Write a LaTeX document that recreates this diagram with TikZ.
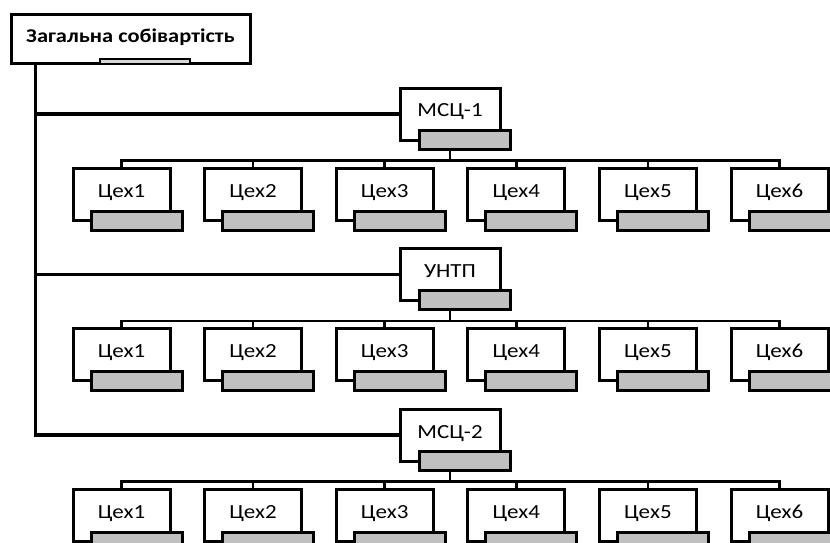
\documentclass[tikz,border=0pt]{standalone}
\usepackage{fontspec}
\setmainfont{Carlito}
\newfontfamily\wide[FakeStretch=1.15]{Carlito}
\usetikzlibrary{positioning,calc}
\definecolor{TabGray}{RGB}{192,192,192}
\definecolor{TopTab}{RGB}{215,215,215}

\begin{document}
\begin{tikzpicture}[x=1pt,y=-1pt,
  unit/.style={draw,line width=3pt,fill=white,minimum width=97pt,minimum height=52pt,
    inner sep=0pt,text height=14pt,text depth=8pt,font=\wide\fontsize{20}{22}\selectfont},
  unittab/.style={draw,line width=3pt,fill=TabGray,minimum width=91pt,minimum height=19pt,inner sep=0pt},
  trunk/.style={line width=3.2pt},
  bus/.style={line width=2.6pt}]
  \useasboundingbox (0,0) rectangle (830,543);
  \clip (0,0) rectangle (830,543);

  % head of the chart
  \node[unit,minimum width=239pt,minimum height=49pt,font=\wide\fontsize{19.5}{22}\selectfont\bfseries] (total) at (130.5,39.5) {Загальна собівартість};
  \node[draw,line width=2pt,fill=TopTab,minimum width=90pt,minimum height=5pt,inner sep=0pt,anchor=south] (total-tab) at ([xshift=14.5pt]total.south) {};

  \foreach \p/\name [count=\k from 0] in {m1/МСЦ-1, untp/УНТП, m2/МСЦ-2} {
    \node[unit,minimum width=100pt] (\p) at (450,{114+160.5*\k}) {\name};
    \node[unittab,anchor=north east] (\p-tab) at ([xshift=10pt,yshift=13pt]\p.south east) {};
    \draw[trunk] ([xshift=26pt]total.south west) |- (\p.west);
    % workshops
    \foreach \i in {1,...,6} {
      \node[unit] (\p-\i) at ({121.5+131.6*(\i-1)},{194+160.5*\k}) {Цех\i};
      \node[unittab,anchor=north east] (\p-\i-tab) at ([xshift=12pt,yshift=12pt]\p-\i.south east) {};
      \draw[bus] (\p |- \p-tab.south) -- ++(0,10) -| (\p-\i.north);
    }
  }
\end{tikzpicture}
\end{document}
